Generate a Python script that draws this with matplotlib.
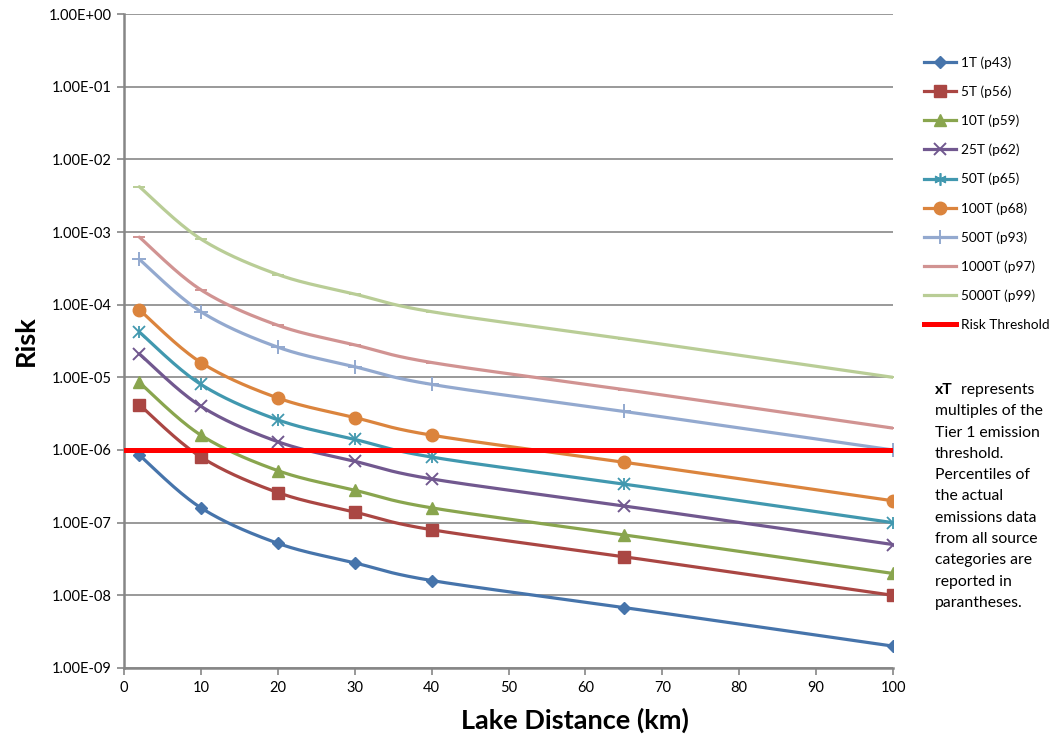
import numpy as np
import matplotlib
matplotlib.use("Agg")
import matplotlib.pyplot as plt
from matplotlib.lines import Line2D
from matplotlib.ticker import FixedLocator, FuncFormatter, NullLocator

plt.rcParams['font.family'] = ['Lato', 'DejaVu Sans']

distance = [2, 10, 20, 30, 40, 65, 100]
series_names = ["1T (p43)", "5T (p56)", "10T (p59)", "25T (p62)", "50T (p65)",
                "100T (p68)", "500T (p93)", "1000T (p97)", "5000T (p99)"]
risk_1T = [8.5e-7, 1.6e-7, 5.2e-8, 2.8e-8, 1.6e-8, 6.8e-9, 2.0e-9]
risk_5T = [4.2e-6, 8.0e-7, 2.6e-7, 1.4e-7, 8.0e-8, 3.4e-8, 1.0e-8]
risk_10T = [8.5e-6, 1.6e-6, 5.2e-7, 2.8e-7, 1.6e-7, 6.8e-8, 2.0e-8]
risk_25T = [2.1e-5, 4.0e-6, 1.3e-6, 7.0e-7, 4.0e-7, 1.7e-7, 5.0e-8]
risk_50T = [4.2e-5, 8.0e-6, 2.6e-6, 1.4e-6, 8.0e-7, 3.4e-7, 1.0e-7]
risk_100T = [8.5e-5, 1.6e-5, 5.2e-6, 2.8e-6, 1.6e-6, 6.8e-7, 2.0e-7]
risk_500T = [4.2e-4, 8.0e-5, 2.6e-5, 1.4e-5, 8.0e-6, 3.4e-6, 1.0e-6]
risk_1000T = [8.5e-4, 1.6e-4, 5.2e-5, 2.8e-5, 1.6e-5, 6.8e-6, 2.0e-6]
risk_5000T = [4.2e-3, 8.0e-4, 2.6e-4, 1.4e-4, 8.0e-5, 3.4e-5, 1.0e-5]
risk_threshold = 1e-6
all_series = [risk_1T, risk_5T, risk_10T, risk_25T, risk_50T,
              risk_100T, risk_500T, risk_1000T, risk_5000T]

colors = ["#4674AB", "#AA4643", "#89A54E", "#71588F", "#4198AF",
          "#DB843D", "#93A9CF", "#D19392", "#B9CD96"]
markers = ["D", "s", "^", "x", "asterisk", "o", "+", "_", "_"]
msizes = [6, 8, 8, 8, 9, 9, 10, 9, 9]
LW = 2.3


def smooth(xs, ys, n=30):
    # Catmull-Rom smoothing (like Excel's smoothed line) in x / log10(y) space
    X = np.array(xs, float) / 100.0 * 770
    Y = np.log10(np.array(ys, float)) * 72.67
    P = np.column_stack([X, Y])
    out = []
    for i in range(len(P) - 1):
        p0 = P[i - 1] if i > 0 else P[i]
        p1, p2 = P[i], P[i + 1]
        p3 = P[i + 2] if i + 2 < len(P) else P[i + 1]
        c1 = p1 + (p2 - p0) / 6.0
        c2 = p2 - (p3 - p1) / 6.0
        t = np.linspace(0, 1, n)[:, None]
        b = ((1 - t) ** 3) * p1 + 3 * ((1 - t) ** 2) * t * c1 + 3 * (1 - t) * t ** 2 * c2 + t ** 3 * p2
        out.append(b if i == 0 else b[1:])
    B = np.vstack(out)
    return B[:, 0] / 770 * 100, 10 ** (B[:, 1] / 72.67)


fig = plt.figure(figsize=(10.58, 7.38), dpi=100)
ax = fig.add_axes([124 / 1058, 1 - 668 / 738, (893 - 124) / 1058, (668 - 14) / 738])
ax.set_yscale('log')
ax.set_xlim(0, 100)
ax.set_ylim(1e-9, 1e0)

handles = []
for name, vals, c, m, ms in zip(series_names, all_series, colors, markers, msizes):
    sx, sy = smooth(distance, vals)
    ax.plot(sx, sy, color=c, lw=LW, solid_capstyle='round', zorder=3)
    if m == "asterisk":
        ax.plot(distance, vals, ls='none', marker='x', ms=ms, mew=1.3, color=c, zorder=4)
        ax.plot(distance, vals, ls='none', marker='|', ms=ms, mew=1.3, color=c, zorder=4)
        h = Line2D([], [], color=c, lw=LW, marker=(6, 2, 0), ms=ms, mew=1.2)
    else:
        mew = 1.4 if m in ("x", "+", "_") else 1
        ax.plot(distance, vals, ls='none', marker=m, ms=ms, mew=mew,
                color=c, mec=c, zorder=4)
        h = Line2D([], [], color=c, lw=LW, marker=m, ms=ms, mew=mew)
    handles.append(h)

ax.plot([0, 100], [risk_threshold, risk_threshold], color="#FF0000", lw=3.6, zorder=5)
handles.append(Line2D([], [], color="#FF0000", lw=3.6))

ax.yaxis.set_major_locator(FixedLocator([10.0 ** k for k in range(-9, 1)]))
ax.yaxis.set_minor_locator(NullLocator())
ax.yaxis.set_major_formatter(FuncFormatter(lambda v, p: "%.2E" % v))
ax.set_xticks(range(0, 101, 10))
ax.grid(axis='y', color="#878787", lw=1.2)
ax.set_axisbelow(True)
for s in ['top', 'right']:
    ax.spines[s].set_visible(False)
for s in ['left', 'bottom']:
    ax.spines[s].set_color("#868686")
    ax.spines[s].set_linewidth(1.8)
ax.tick_params(axis='both', which='major', direction='out', length=5, width=1.2,
               color="#868686", labelsize=10.5, labelcolor='black', pad=4)

fig.text(575 / 1058, 1 - 720 / 738, "Lake Distance (km)", fontsize=19.5,
         fontweight='bold', ha='center', va='center')
ax.set_ylabel("Risk", fontsize=19.5, fontweight='bold', labelpad=8)

leg = fig.legend(handles, series_names + ["Risk Threshold"], loc='upper left',
                 bbox_to_anchor=(912 / 1058, 1 - 44 / 738), frameon=False,
                 fontsize=9.8, handlelength=2.3, labelspacing=1.22, handletextpad=0.4)

# annotation text block
fig.canvas.draw()
r = fig.canvas.get_renderer()
x0 = 935 / 1058
y0 = 1 - 390 / 738
FS = 11.3
t1 = fig.text(x0, y0, "xT", fontsize=FS, fontweight='bold', va='center', ha='left')
w1 = t1.get_window_extent(r).width / 1058
fig.text(x0 + w1, y0, "  represents", fontsize=FS, va='center', ha='left')
rest = ["multiples of the", "Tier 1 emission", "threshold.", "Percentiles of",
        "the actual", "emissions data", "from all source", "categories are",
        "reported in", "parantheses."]
for i, line in enumerate(rest):
    fig.text(x0, y0 - (i + 1) * 21.3 / 738, line, fontsize=FS, va='center', ha='left')

fig.savefig("out.png", dpi=100)
